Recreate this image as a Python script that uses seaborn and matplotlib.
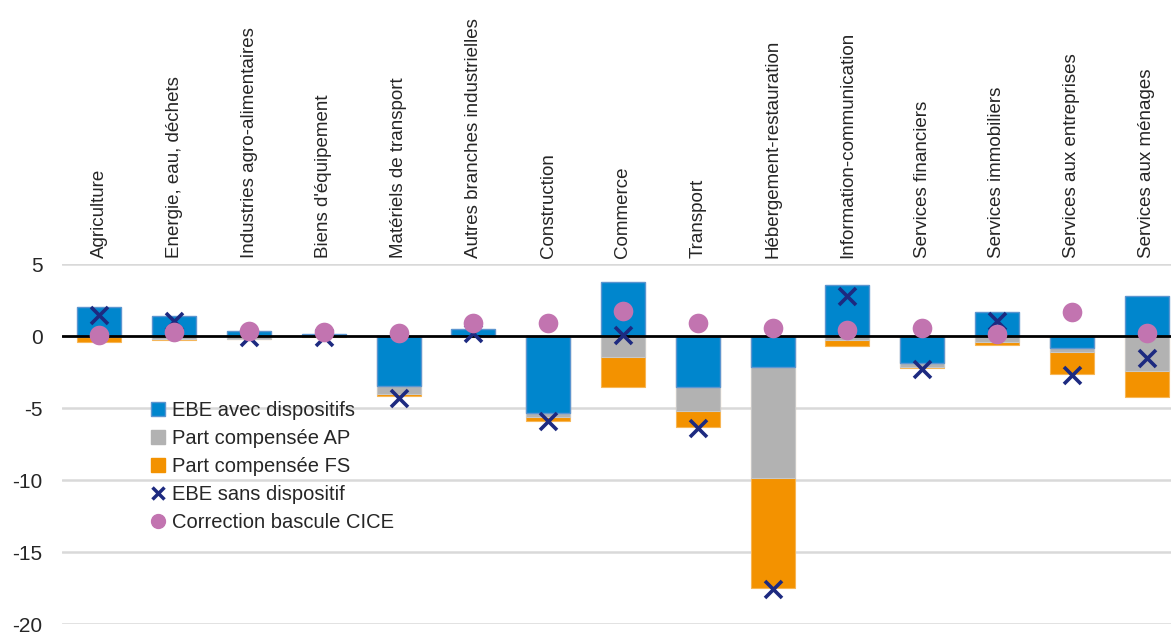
import numpy as np
import pandas as pd
import matplotlib
matplotlib.use("Agg")
import matplotlib.pyplot as plt
from matplotlib.lines import Line2D
import seaborn as sns

categories = ["Agriculture", "Energie, eau, déchets", "Industries agro-alimentaires",
              "Biens d'équipement", "Matériels de transport", "Autres branches industrielles",
              "Construction", "Commerce", "Transport", "Hébergement-restauration",
              "Information-communication", "Services financiers", "Services immobiliers",
              "Services aux entreprises", "Services aux ménages"]
ebe_avec = [2.0, 1.4, 0.35, 0.12, -3.47, 0.46, -5.37, 3.73, -3.52, -2.18, 3.54, -1.9, 1.69, -0.86, 2.78]
part_ap = [-0.05, -0.2, -0.2, -0.03, -0.56, -0.07, -0.23, -1.48, -1.67, -7.66, -0.28, -0.23, -0.39, -0.23, -2.43]
part_fs = [-0.4, -0.08, -0.03, -0.02, -0.17, -0.02, -0.28, -2.04, -1.11, -7.68, -0.39, -0.12, -0.23, -1.55, -1.83]
ebe_sans = [1.45, 1.06, -0.07, -0.05, -4.28, 0.19, -5.9, 0.07, -6.4, -17.6, 2.8, -2.29, 1.06, -2.71, -1.55]
correction = [0.07, 0.26, 0.35, 0.28, 0.23, 0.92, 0.88, 1.76, 0.88, 0.53, 0.42, 0.53, 0.14, 1.69, 0.23]
yticks = [5, 0, -5, -10, -15, -20]

c_blue = "#0086CD"
c_gray = "#B2B2B2"
c_orange = "#F39200"
c_navy = "#1D2A80"
c_pink = "#C274B0"

sns.set_theme(style="white")
plt.rcParams["font.family"] = ["Liberation Sans", "DejaVu Sans"]

df = pd.DataFrame({"cat": categories, "ebe": ebe_avec, "ap": part_ap, "fs": part_fs,
                   "sans": ebe_sans, "corr": correction})
neg_base = np.minimum(df["ebe"], 0)
df["gray_end"] = neg_base + df["ap"]
df["orange_end"] = df["gray_end"] + df["fs"]

fig = plt.figure(figsize=(11.71, 6.32), dpi=100)
ax = fig.add_axes([62 / 1171, 8 / 632, 1122 / 1171, 360 / 632])

for y in yticks:
    if y != 0:
        ax.axhline(y, color="#D9D9D9", lw=1.8, zorder=0)

w = 0.59
sns.barplot(data=df, x="cat", y="orange_end", order=categories, color=c_orange,
            saturation=1, width=w, edgecolor="#F7B655", linewidth=0.8, ax=ax, zorder=2)
sns.barplot(data=df, x="cat", y="gray_end", order=categories, color=c_gray,
            saturation=1, width=w, edgecolor="#C8C8C8", linewidth=0.8, ax=ax, zorder=3)
sns.barplot(data=df, x="cat", y="ebe", order=categories, color=c_blue,
            saturation=1, width=w, edgecolor="#5B95D0", linewidth=1.0, ax=ax, zorder=4)

ax.axhline(0, color="black", lw=2, zorder=5)

sns.scatterplot(data=df, x="cat", y="sans", marker="x", color=c_navy, s=150,
                linewidth=2.6, ax=ax, zorder=6, clip_on=False)
sns.scatterplot(data=df, x="cat", y="corr", marker="o", color=c_pink, s=200,
                linewidth=0, ax=ax, zorder=7, clip_on=False)

ax.set_xlim(-0.5, len(categories) - 0.5)
ax.set_ylim(-20, 5)
ax.set_yticks(yticks)
ax.set_yticklabels([str(v) for v in yticks], fontsize=15)
ax.tick_params(axis="y", length=0, pad=14)
ax.xaxis.tick_top()
ax.set_xticks(range(len(categories)))
ax.set_xticklabels(categories, rotation=90, fontsize=13.5, va="bottom", ha="center")
ax.tick_params(axis="x", length=0, pad=4)
ax.set_xlabel("")
ax.set_ylabel("")
for s in ax.spines.values():
    s.set_visible(False)

handles = [
    Line2D([], [], marker="s", ls="none", color=c_blue, markeredgecolor="#5B95D0", markersize=10),
    Line2D([], [], marker="s", ls="none", color=c_gray, markersize=10),
    Line2D([], [], marker="s", ls="none", color=c_orange, markersize=10),
    Line2D([], [], marker="x", ls="none", color=c_navy, markersize=8, markeredgewidth=2.5),
    Line2D([], [], marker="o", ls="none", color=c_pink, markersize=10),
]
labels = ["EBE avec dispositifs", "Part compensée AP", "Part compensée FS",
          "EBE sans dispositif", "Correction bascule CICE"]
fig.legend(handles, labels, loc="upper left", bbox_to_anchor=(150 / 1171, 1 - 401 / 632),
           frameon=False, fontsize=14.5, handlelength=0.8, handletextpad=0.3,
           labelspacing=0.45, borderaxespad=0, borderpad=0)

fig.savefig("out.png", dpi=100)
